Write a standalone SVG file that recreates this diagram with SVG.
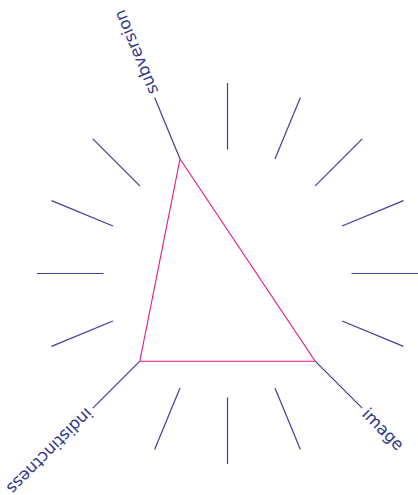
<svg xmlns="http://www.w3.org/2000/svg" width="418" height="495" viewBox="0 0 418 495">
<style>
.spoke{stroke:#3d3f9e;stroke-width:1.2;fill:none}
.poly{stroke:#e6187f;stroke-width:1.1;fill:none}
.lbl{font-family:"DejaVu Sans","Liberation Sans",sans-serif;font-size:16.5px;fill:#2f388c}
</style>
<rect width="418" height="495" fill="#fff"/>
<g id="connectors">
<line class="spoke" x1="227.5" y1="149.5" x2="227.5" y2="83"/>
<line class="spoke" x1="274.95" y1="158.94" x2="300.4" y2="97.5"/>
<line class="spoke" x1="315.18" y1="185.82" x2="362.2" y2="138.8"/>
<line class="spoke" x1="342.06" y1="226.05" x2="403.5" y2="200.6"/>
<line class="spoke" x1="351.5" y1="273.5" x2="418" y2="273.5"/>
<line class="spoke" x1="342.06" y1="320.95" x2="403.5" y2="346.4"/>
<line class="spoke" x1="315.18" y1="361.18" x2="362.2" y2="408.2"/>
<line class="spoke" x1="274.95" y1="388.06" x2="300.4" y2="449.5"/>
<line class="spoke" x1="227.5" y1="397.5" x2="227.5" y2="464"/>
<line class="spoke" x1="180.05" y1="388.06" x2="154.6" y2="449.5"/>
<line class="spoke" x1="139.82" y1="361.18" x2="92.8" y2="408.2"/>
<line class="spoke" x1="112.94" y1="320.95" x2="51.5" y2="346.4"/>
<line class="spoke" x1="103.5" y1="273.5" x2="37" y2="273.5"/>
<line class="spoke" x1="112.94" y1="226.05" x2="51.5" y2="200.6"/>
<line class="spoke" x1="139.82" y1="185.82" x2="92.8" y2="138.8"/>
<line class="spoke" x1="180.05" y1="158.94" x2="154.6" y2="97.5"/>
</g>
<g id="triangle">
<polygon class="poly" points="180.05,158.94 315.18,361.18 139.82,361.18"/>
</g>
<g id="subversion">
<text class="lbl" transform="translate(154.6,97.5) rotate(-112.5)" x="4" dy="0.35em">subversion</text>
</g>
<g id="image">
<text class="lbl" transform="translate(362.2,408.2) rotate(45)" x="4" dy="0.35em">image</text>
</g>
<g id="indistinctness">
<text class="lbl" transform="translate(92.8,408.2) rotate(135)" x="4" dy="0.35em">indistinctness</text>
</g>
</svg>
